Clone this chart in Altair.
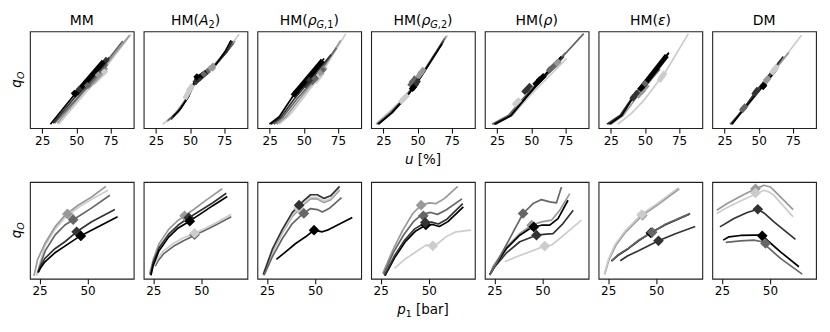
import altair as alt
import pandas as pd

FONT = "DejaVu Sans"
SERIES = ["L", "G", "M", "D", "K"]
GRAYS = ["#cccccc", "#999999", "#666666", "#333333", "#000000"]

TOP_X_DOMAIN = [16, 92]
BOT_X_DOMAIN = [20, 74]
TOP_TICKS = [25, 50, 75]
BOT_TICKS = [25, 50]

# ---------------- top row: q_O vs u [%] ----------------
MM_TOP = {
    "L": ([37, 62, 90], [4, 45, 97]),
    "G": ([36, 60, 89], [5, 45, 96]),
    "M": ([34, 55, 84], [5, 38, 90]),
    "D": ([33, 52, 74], [5, 37, 73]),
    "K": ([31, 50, 72], [4, 37, 72]),
}
MM_TOP_THICK = {"L": (62, 46, 72, 60), "G": (58, 42, 72, 63), "M": (55, 40, 72, 67),
                "D": (50, 35, 73, 72), "K": (48, 33, 70, 69)}
MM_TOP_MARK = {"L": (70.5, 58), "G": (66, 55), "M": (58, 44), "D": (52, 40), "K": (48.5, 36)}

A2_TOP = {
    "L": ([30, 37, 45, 51, 55, 60, 66, 76, 86], [4, 12, 26, 42, 50, 56, 63, 79, 97]),
    "G": ([33, 40, 47, 52, 56, 61, 67, 76, 83], [7, 16, 30, 44, 51, 57, 64, 78, 90]),
    "M": ([34, 41, 48, 53, 57, 62, 68, 77, 82], [8, 17, 31, 45, 52, 58, 65, 79, 88]),
    "D": ([36, 42, 48, 53, 57, 62, 68, 77, 81], [9, 18, 31, 45, 52, 57, 64, 79, 90]),
    "K": ([37.4, 43, 49, 54.5, 58, 63, 69, 76, 80], [11.7, 20, 33, 52.9, 55, 59, 66, 80, 90.7]),
}
A2_TOP_THICK = {"L": (46, 30, 52, 45), "G": (62, 58, 68, 66), "M": (56, 50, 64, 60),
                "D": (53, 46, 60, 56), "K": (54, 50, 62, 58)}
A2_TOP_MARK = {"L": (49.5, 40), "G": (66.5, 62), "M": (60, 56), "D": (56, 51), "K": (55, 53)}

RG1_TOP = {
    "L": ([32, 40, 50, 62, 80.8], [4, 14, 32, 54, 97.6]),
    "G": ([30, 37, 47, 60, 77], [4, 12, 30, 53, 90.7]),
    "M": ([28, 35, 45, 58, 74], [4, 12, 30, 51, 83]),
    "D": ([26, 33, 43, 55, 70], [4, 11, 30, 50, 76]),
    "K": ([24.8, 32, 42, 52, 64.9], [4.1, 11.7, 33, 52, 71.9]),
}
RG1_TOP_THICK = {"L": (58, 47, 64, 58), "G": (58, 50, 66, 63), "M": (55, 46, 65, 62),
                 "D": (50, 43, 60, 58), "K": (41.8, 33, 63.9, 70)}
RG1_TOP_MARK = {"L": (61.3, 55), "G": (62, 57), "M": (58, 51), "D": (54, 49.5), "K": (44.3, 37)}

RG2_TOP = {
    "L": ([19.4, 29.2, 40, 55, 72], [4, 16.8, 31, 58, 96]),
    "G": ([20, 30, 41, 53, 71], [4, 16, 32, 56, 95]),
    "M": ([20.5, 30.5, 41, 52, 70], [4, 16, 32, 52, 93]),
    "D": ([21, 31, 42, 52, 69], [4, 16, 33, 52, 90]),
    "K": ([21.5, 31.5, 43, 52, 68], [4, 16, 34, 52, 87]),
}
RG2_TOP_THICK = {"L": (37, 26, 43, 35), "G": (50, 52, 55, 62), "M": (44, 43, 49, 53),
                 "D": (46, 40, 51, 50), "K": (45, 39, 49, 46)}
RG2_TOP_MARK = {"L": (40, 30.5), "G": (52.3, 57), "M": (46.2, 48), "D": (48.5, 45), "K": (47, 42)}

RHO_TOP = {
    "L": ([24, 36, 48, 62, 76], [4, 13, 32, 52, 72]),
    "G": ([22, 34, 46, 60, 75], [4, 13, 32, 55, 78]),
    "M": ([21.3, 33.5, 45, 60, 75, 88.4], [4, 13.4, 32, 55, 77, 97.6]),
    "D": ([23.5, 35.5, 47, 60, 74], [4, 13, 33, 53, 74]),
    "K": ([23, 35, 47, 60, 72], [4, 13, 33, 55, 74]),
}
RHO_TOP_THICK = {"L": (37, 23, 42, 30), "G": (66, 63, 71, 70), "M": (62, 58, 70, 69),
                 "D": (44, 36, 50, 45), "K": (52, 44, 60, 55)}
RHO_TOP_MARK = {"L": (39.5, 27), "G": (68.9, 67), "M": (64, 61), "D": (46.8, 39.5), "K": (56, 50)}

EPS_TOP = {
    "L": ([30, 40, 50, 65, 81.8], [4, 15, 30, 58, 97.6]),
    "G": ([25, 34, 43, 53, 66], [4, 13, 30, 48, 74]),
    "M": ([23, 32.5, 41, 51, 66], [4, 13, 31, 49, 76]),
    "D": ([22.1, 31.9, 40, 50, 67.2], [4.1, 13.4, 30, 48, 77]),
    "K": ([24, 33, 41, 52, 67.5], [4, 13, 31, 50, 78]),
}
EPS_TOP_THICK = {"L": (60, 48, 65, 58), "G": (44, 32, 52, 45), "M": (45, 37, 60, 62),
                 "D": (40, 29, 45, 38), "K": (46, 39, 66, 75)}
EPS_TOP_MARK = {"L": (62.3, 53), "G": (48, 38), "M": (50, 46), "D": (41.6, 32), "K": (47, 41)}

DM_TOP = {
    "L": ([28.9, 40, 50, 60, 70, 81.3], [4, 20, 38, 58, 75, 95.9]),
    "G": ([29, 40, 50, 60, 72], [4, 20, 38, 57, 78]),
    "M": ([30, 38.7, 48, 56, 66], [4, 20, 36, 50, 70]),
    "D": ([29.5, 39, 48, 56, 68], [4, 20, 38, 52, 74]),
    "K": ([30.5, 40, 50, 56, 64], [4, 21, 38, 48, 62]),
}
DM_TOP_THICK = {"L": (59, 56, 64, 65), "G": (54, 46, 58, 53), "M": (37, 17, 41, 24),
                "D": (46, 34, 50, 41), "K": (52, 41, 55, 46)}
DM_TOP_MARK = {"L": (61.8, 61), "G": (55.7, 50), "M": (38.7, 20.3), "D": (48.4, 38), "K": (53.3, 43)}

# ---------------- bottom row: q_O vs p1 [bar] ----------------
MM_BOT = {
    "L": ([23.5, 25, 27.8, 33, 38.2, 45.1, 52.1, 60.6], [3, 15, 34, 51, 63, 73.5, 82, 91.4]),
    "G": ([22.1, 24, 27.8, 33, 38.2, 45.1, 52.1, 59.5], [3, 20, 36.4, 53.6, 65.6, 75.9, 84.5, 95.5]),
    "M": ([24, 25.5, 28, 33, 38.2, 45, 52, 61.6], [6, 15, 29, 45, 55.5, 64, 73, 86.2]),
    "D": ([24.3, 25.5, 27.8, 33, 38.2, 44.3, 52.1, 64.2], [7.2, 13, 21, 31, 38.2, 48.5, 58.8, 71.5]),
    "K": ([24.3, 25.5, 27.8, 33, 38.2, 46, 53.8, 65.6], [6.5, 11, 17.5, 26.8, 33.7, 44, 52, 64]),
}
MM_BOT_MARK = {"L": (40.5, 66), "G": (39.5, 67), "M": (42.5, 61), "D": (44.3, 48.5), "K": (46.5, 44.2)}

A2_BOT = {
    "M": ([26, 27.5, 30.5, 35.5, 40.5, 46.5, 52, 58, 65.6], [13, 18.5, 26, 33.5, 39, 45, 50, 56, 64]),
    "L": ([25.7, 27, 30, 35, 40, 46.5, 52, 58, 65.6], [14.4, 20, 28, 36, 41.5, 47, 52, 58, 66.7]),
    "G": ([23.1, 25, 28, 33, 38, 41.3, 46, 52, 60.9], [4.8, 20, 36, 51, 60.5, 65, 71.5, 80.5, 93]),
    "D": ([23.5, 25, 28, 33, 38, 43.5, 50, 56, 63], [4, 17, 32, 46, 55.5, 63, 71, 78.5, 88.3]),
    "K": ([23.8, 25, 28, 33, 38, 43.9, 50, 56, 63.5], [3.5, 14, 29, 43, 52.5, 59.5, 67.5, 75.5, 84.9]),
}
A2_BOT_MARK = {"M": (46.5, 45.5), "L": (46.5, 47), "G": (41.3, 65), "D": (43.5, 63), "K": (44, 59.5)}

RG1_BOT = {
    "G": ([23.1, 27.8, 33, 38.2, 43.4, 47.7, 51.2, 54.7, 58.1, 62.8], [3.5, 27.5, 47.5, 64.5, 75.5, 82.5, 82.5, 78.8, 81.5, 91.5]),
    "L": ([23.1, 27.8, 33, 38.2, 43.4, 47.7, 51.2, 54.7, 58.1, 62.8], [4, 28.5, 48.5, 66, 77, 84, 84, 80.2, 83, 93]),
    "D": ([23.1, 27.8, 33, 38.2, 43.4, 47.7, 51.2, 54.7, 58.1, 62.8], [4.5, 30.5, 51, 68.5, 79.5, 86.8, 86.8, 83, 85.7, 95.5]),
    "M": ([23.5, 27.8, 33, 38.2, 43.4, 47.7, 51.2, 53.8, 57.3, 63.8], [3.8, 22.7, 41.6, 57, 66.7, 72.5, 71.5, 69, 72.5, 83.9]),
    "K": ([29.9, 34.7, 39.9, 45.1, 49.5, 53.8, 56.4, 69.4], [20, 27.8, 36.4, 43.3, 50.2, 48.5, 50.2, 63.2]),
}
RG1_BOT_MARK = {"G": (41.8, 72), "L": (41.5, 73), "D": (41.7, 76), "M": (44.2, 67.5), "K": (49.5, 50.2)}

RG2_BOT = {
    "L": ([32.1, 38.2, 43.4, 48.6, 52.1, 54.7, 59, 64.2, 72], [10.7, 21, 27.8, 34.7, 33.7, 36.4, 43.3, 48.5, 50.2]),
    "G": ([26.1, 31.3, 36.5, 41.7, 46, 50.3, 53.8, 58.1, 65.1], [5.5, 29.6, 50.2, 67.4, 76, 78.4, 77.7, 82.8, 95.5]),
    "K": ([27.2, 32.5, 37.7, 43, 48.5, 52, 55.5, 60, 68], [3, 22.5, 38, 49, 55.5, 56, 54, 59, 74.2]),
    "M": ([26.5, 31.7, 37, 42, 46.5, 51, 54.5, 59, 67.3], [4.5, 27.5, 45.5, 59, 66.5, 68.5, 66.5, 71, 82.5]),
    "D": ([27, 32.3, 37.5, 42.7, 48.2, 51.5, 55, 59.5, 67.7], [3.5, 24, 40, 51.5, 58, 58.5, 56.5, 61.5, 77.7]),
}
RG2_BOT_MARK = {"L": (52.1, 34), "G": (46, 76), "K": (48.5, 55.5), "M": (47.2, 65), "D": (48.2, 58)}

RHO_BOT = {
    "L": ([30.4, 36.5, 43.4, 51.2, 54.7, 59, 64.2, 70.3], [17.5, 22.7, 27.8, 33.7, 34.7, 41.6, 50.2, 60.5]),
    "G": ([22.6, 24.3, 31.3, 38.2, 44.3, 49.5, 54.7, 59, 64.2], [4, 13, 33, 46.7, 55.3, 58.8, 60.5, 70.8, 88]),
    "D": ([22.6, 25.2, 31.3, 38.2, 46.9, 52.1, 55.5, 60.7, 66], [4.5, 12.4, 26.8, 38.2, 45, 46, 46.7, 57, 70.8]),
    "K": ([22.6, 25.2, 31.3, 38.2, 44.3, 49.5, 53.8, 58.1, 63.3], [4, 13, 31.3, 45, 52.9, 55.3, 55.3, 62.2, 81.1]),
    "M": ([22.6, 27.8, 33.9, 39.9, 45.1, 49.5, 53.8, 57.3, 59.9], [3.8, 22.7, 45, 67.4, 77.7, 81.8, 79.4, 78.4, 94.8]),
}
RHO_BOT_MARK = {"L": (51.2, 33.7), "G": (44.3, 55.3), "D": (46.9, 45), "K": (45.5, 53.5), "M": (39.9, 67.4)}

EPS_BOT = {
    "G": ([23.2, 25.4, 29, 34.2, 42.8, 51.5, 62], [4.5, 19.5, 34.5, 48.5, 65.5, 77.5, 93]),
    "L": ([23, 25.2, 28.7, 33.9, 42.5, 51.2, 61.6], [4.8, 20.3, 35.7, 49.5, 66.7, 78.7, 94.1]),
    "K": ([26.7, 30, 35.6, 41, 47.2, 55, 67.5], [18.2, 24, 31.3, 39.5, 47.5, 56, 67]),
    "M": ([26.9, 30, 35.6, 41, 47.7, 55, 67.7], [18.6, 24.5, 31.6, 40, 47.7, 56.5, 67.3]),
    "D": ([31.3, 35, 40.8, 51.2, 60, 70.3], [18.6, 23.5, 28.9, 39.2, 46.5, 53.9]),
}
EPS_BOT_MARK = {"G": (42.8, 65.5), "L": (42.5, 66.4), "K": (47.2, 47.3), "M": (47.9, 48), "D": (51.2, 39.2)}

DM_BOT = {
    "G": ([22.3, 27.8, 34.7, 41.7, 46.9, 50.3, 52.1, 62.1], [70.8, 77.7, 85.2, 92.1, 96.6, 94.8, 91.4, 71.5]),
    "L": ([22.3, 27.8, 34.7, 42.5, 46.9, 49.5, 52.1, 62.1], [67.4, 73.5, 80.4, 87.3, 91.4, 89.7, 86.2, 63.9]),
    "D": ([24, 31.3, 38.2, 43.7, 46.9, 52.1, 63.3], [53.6, 62.2, 68.4, 71.8, 68, 58.8, 40.6]),
    "M": ([27, 34.7, 41.7, 46, 47.7, 55.5, 66.8], [37.5, 39.2, 39.9, 38.2, 34.7, 21, 4.8]),
    "K": ([25.7, 28.7, 34.7, 41.7, 46, 49.5, 55.5, 65.1], [39.9, 43.3, 44.7, 45, 45, 38.2, 27.8, 12.4]),
}
DM_BOT_MARK = {"G": (42.5, 93), "L": (42.5, 88.7), "D": (43.7, 71.8), "M": (47.7, 36.4), "K": (46, 44.3)}

# panel titles: (text, style, size, subscript shift)
TITLES = [
    [("MM", "normal", 14, 0)],
    [("HM(", "normal", 14, 0), ("A", "italic", 14, 0), ("2", "normal", 9.8, 3), (")", "normal", 14, 0)],
    [("HM(", "normal", 14, 0), ("ρ", "italic", 14, 0), ("G", "italic", 9.8, 3), (",1", "normal", 9.8, 3), (")", "normal", 14, 0)],
    [("HM(", "normal", 14, 0), ("ρ", "italic", 14, 0), ("G", "italic", 9.8, 3), (",2", "normal", 9.8, 3), (")", "normal", 14, 0)],
    [("HM(", "normal", 14, 0), ("ρ", "italic", 14, 0), (")", "normal", 14, 0)],
    [("HM(", "normal", 14, 0), ("ε", "italic", 14, 0), (")", "normal", 14, 0)],
    [("DM", "normal", 14, 0)],
]
TOP_XLABEL = [("u", "italic", 13.5, 0), (" [%]", "normal", 13.5, 0)]
BOT_XLABEL = [("p", "italic", 13.5, 0), ("1", "normal", 9.5, 3), (" [bar]", "normal", 13.5, 0)]

TOP_PANELS = [(MM_TOP, MM_TOP_MARK, MM_TOP_THICK), (A2_TOP, A2_TOP_MARK, A2_TOP_THICK),
              (RG1_TOP, RG1_TOP_MARK, RG1_TOP_THICK), (RG2_TOP, RG2_TOP_MARK, RG2_TOP_THICK),
              (RHO_TOP, RHO_TOP_MARK, RHO_TOP_THICK), (EPS_TOP, EPS_TOP_MARK, EPS_TOP_THICK),
              (DM_TOP, DM_TOP_MARK, DM_TOP_THICK)]
BOT_PANELS = [(MM_BOT, MM_BOT_MARK, None), (A2_BOT, A2_BOT_MARK, None), (RG1_BOT, RG1_BOT_MARK, None),
              (RG2_BOT, RG2_BOT_MARK, None), (RHO_BOT, RHO_BOT_MARK, None), (EPS_BOT, EPS_BOT_MARK, None),
              (DM_BOT, DM_BOT_MARK, None)]

W, H = 104, 97
DUMMY = pd.DataFrame({"k": [0]})
CW = {'M': 1767, 'H': 1540, 'D': 1577, '(': 799, ')': 799, 'A': 1401, 'G': 1577, ',': 651,
      '1': 1303, '2': 1303, 'ρ': 1300, 'ε': 1100, ' ': 651, '[': 799, ']': 799, '%': 1946,
      'u': 1298, 'p': 1300, 'b': 1300, 'a': 1255, 'r': 842, 'q': 1300, 'O': 1612}


def tw(s, size):
    return sum(CW.get(c, 1250) for c in s) / 2048 * size


def text_row(pieces, cx, y):
    total = sum(tw(t, sz) for t, st, sz, dy in pieces)
    x = cx - total / 2
    out = []
    for t, st, sz, dy in pieces:
        lead = len(t) - len(t.lstrip(" "))
        x += tw(" " * lead, sz)
        t2 = t.lstrip(" ")
        out.append(alt.Chart(DUMMY).mark_text(text=t2, font=FONT, fontSize=sz, fontStyle=st,
                                              align="left", baseline="alphabetic", color="black")
                   .encode(x=alt.value(x), y=alt.value(y + dy)))
        x += tw(t2, sz)
    return out


color = alt.Color("s:N", scale=alt.Scale(domain=SERIES, range=GRAYS), legend=None)


def panel(idx, lines, marks, thick, xdom, ticks, top):
    names = list(lines)
    rows = []
    for s, (xs, ys) in lines.items():
        for i, (x, y) in enumerate(zip(xs, ys)):
            rows.append({"s": s, "g": str(names.index(s)) + s, "i": i, "x": x, "y": y})
    ldf = pd.DataFrame(rows)
    mdf = pd.DataFrame([{"s": s, "x": v[0], "y": v[1], "o": names.index(s)} for s, v in marks.items()])
    xs = alt.Scale(domain=xdom, nice=False, zero=False)
    ys = alt.Scale(domain=[0, 100], nice=False, zero=False)
    xax = alt.Axis(values=ticks, format="d", title=None)
    layers = [alt.Chart(ldf).mark_line(strokeWidth=1.7, strokeJoin="round").encode(
        x=alt.X("x:Q", scale=xs, axis=xax), y=alt.Y("y:Q", scale=ys, axis=None),
        color=color, detail="g:N", order="i:Q")]
    if thick:
        tdf = pd.DataFrame([{"s": s, "x": v[0], "y": v[1], "x2": v[2], "y2": v[3]} for s, v in thick.items()])
        layers.append(alt.Chart(tdf).mark_rule(strokeWidth=5, strokeCap="butt").encode(
            x=alt.X("x:Q", scale=xs), y=alt.Y("y:Q", scale=ys), x2="x2:Q", y2="y2:Q", color=color))
    layers.append(alt.Chart(mdf).mark_point(shape="diamond", filled=True, opacity=1,
                                            size=50 if top else 115).encode(
        x=alt.X("x:Q", scale=xs), y=alt.Y("y:Q", scale=ys), color=color, order="o:Q"))
    if top:
        layers += text_row(TITLES[idx], W / 2, -6)
    if idx == 3:
        layers += text_row(TOP_XLABEL if top else BOT_XLABEL, W / 2, H + 35.5)
    if idx == 0:
        layers.append(alt.Chart(DUMMY).mark_text(text="q", font=FONT, fontSize=13.5, fontStyle="italic",
                                                 angle=270, align="left", baseline="alphabetic", color="black")
                      .encode(x=alt.value(-9), y=alt.value(56.5)))
        layers.append(alt.Chart(DUMMY).mark_text(text="O", font=FONT, fontSize=9.5, fontStyle="italic",
                                                 angle=270, align="left", baseline="alphabetic", color="black")
                      .encode(x=alt.value(-6), y=alt.value(47.9)))
    return alt.layer(*layers).properties(width=W, height=H)


top_row = alt.hconcat(*[panel(i, *p, TOP_X_DOMAIN, TOP_TICKS, True) for i, p in enumerate(TOP_PANELS)],
                      spacing=10, bounds="flush")
bot_row = alt.hconcat(*[panel(i, *p, BOT_X_DOMAIN, BOT_TICKS, False) for i, p in enumerate(BOT_PANELS)],
                      spacing=10, bounds="flush")

chart = alt.vconcat(top_row, bot_row, spacing=14).configure_view(
    stroke="#222222", strokeWidth=1.1
).configure_axisX(
    labelFont=FONT, labelFontSize=12, labelColor="black", tickColor="black", tickSize=5,
    tickWidth=1, labelPadding=2, domain=False, grid=False
).properties(
    padding={"left": 1, "top": 5, "right": 5, "bottom": 5}, background="white"
)

chart.save("out.html", embed_options={"renderer": "svg", "actions": False})
